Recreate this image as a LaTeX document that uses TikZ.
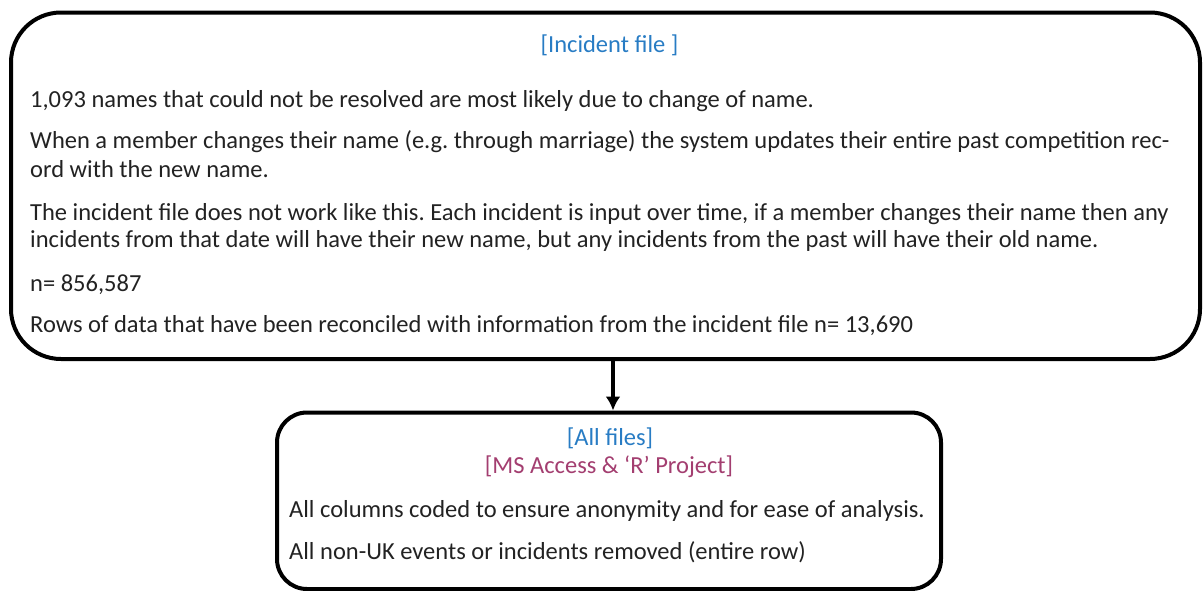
\documentclass[tikz,border=0pt]{standalone}
\usepackage{fontspec}
\setmainfont{Carlito}
\usepackage{tikz}
\usetikzlibrary{shapes,arrows,arrows.meta}
\definecolor{titleblue}{RGB}{40,124,196}
\definecolor{titleplum}{RGB}{163,62,112}
\definecolor{bodygrey}{RGB}{34,34,34}
\tikzstyle{bigbox} = [draw, line width=4pt, rectangle, rounded corners=50pt]
\tikzstyle{smallbox} = [draw, line width=4pt, rectangle, rounded corners=30pt]
\tikzstyle{line} = [draw, line width=3.5pt, -{Latex[length=14pt,width=15pt]}]
\tikzstyle{para} = [anchor=base west, inner sep=0pt, text=bodygrey, font=\fontsize{24.5}{29.5}\selectfont]
\tikzstyle{heading} = [anchor=base, inner sep=0pt, font=\fontsize{24.5}{29.5}\selectfont]

\begin{document}
\frenchspacing
\begin{tikzpicture}[x=1pt, y=-1pt]
        \useasboundingbox (0,0) rectangle (1203,590);
        \node[bigbox, minimum width=1189pt, minimum height=346.5pt] (incident) at (605.5,185.75) {};
        \node[smallbox, minimum width=664pt, minimum height=176.5pt] (allfiles) at (609,500.75) {};
        % incident file box
        \node[heading, text=titleblue] (inctitle) at (609.5,52.5) {[Incident file ]};
        \node[para] (p1) at (30,107) {1,093 names that could not be resolved are most likely due to change of name.};
        \node[para] (p2a) at (30,148) {When a member changes their name (e.g. through marriage) the system updates their entire past competition rec-};
        \node[para] (p2b) at (30,177) {ord with the new name.};
        \node[para] (p3a) at (30,220) {The incident file does not work like this. Each incident is input over time, if a member changes their name then any};
        \node[para] (p3b) at (30,247) {incidents from that date will have their new name, but any incidents from the past will have their old name.};
        \node[para] (p4) at (30,291) {n= 856,587};
        \node[para] (p5) at (30,332) {Rows of data that have been reconciled with information from the incident file n= 13,690};
        % all files box
        \node[heading, text=titleblue] (alltitle) at (610,445) {[All files]};
        \node[heading, text=titleplum] (alltool) at (609,473) {[MS Access \& ‘R’ Project]};
        \node[para] (q1) at (289,517) {All columns coded to ensure anonymity and for ease of analysis.};
        \node[para] (q2) at (289,559) {All non-UK events or incidents removed (entire row)};
        \path[line] (incident.south -| 613,0) -- (allfiles.north -| 613,0);
    \end{tikzpicture}
\end{document}
